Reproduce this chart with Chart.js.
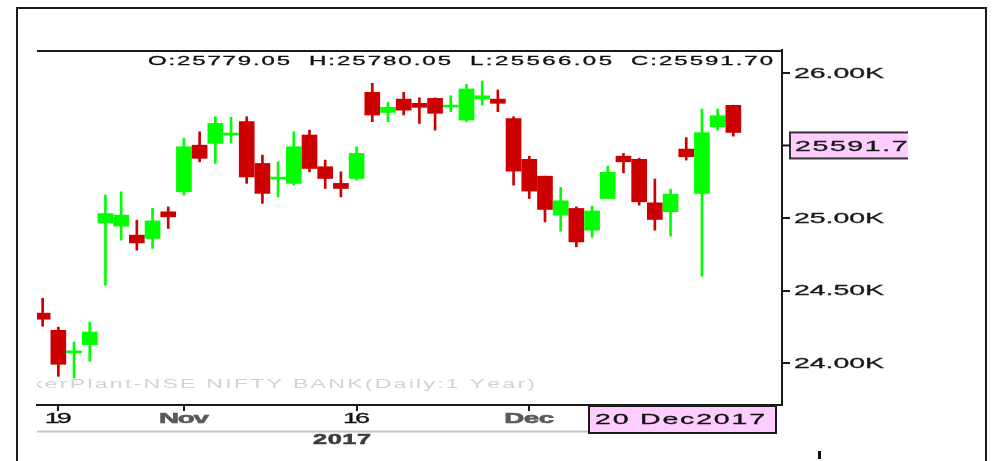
<!DOCTYPE html>
<html>
<head>
<meta charset="utf-8">
<script src="https://cdn.jsdelivr.net/npm/chart.js@4.4.1/dist/chart.umd.min.js"></script>
<style>
  html, body { margin: 0; padding: 0; background: #ffffff; }
  #wrap { width: 994px; height: 461px; position: relative; }
</style>
</head>
<body>
<div id="wrap"><canvas id="c" width="994" height="461"></canvas></div>
<script>
// ---- data (NSE NIFTY BANK, daily) ----
const dates = [
  '2017-10-18','2017-10-19','2017-10-23','2017-10-24','2017-10-25','2017-10-26','2017-10-27','2017-10-30','2017-10-31',
  '2017-11-01','2017-11-02','2017-11-03','2017-11-06','2017-11-07','2017-11-08','2017-11-09','2017-11-10',
  '2017-11-13','2017-11-14','2017-11-15','2017-11-16','2017-11-17','2017-11-20','2017-11-21','2017-11-22',
  '2017-11-23','2017-11-24','2017-11-27','2017-11-28','2017-11-29','2017-11-30',
  '2017-12-01','2017-12-04','2017-12-05','2017-12-06','2017-12-07','2017-12-08','2017-12-11','2017-12-12',
  '2017-12-13','2017-12-14','2017-12-15','2017-12-18','2017-12-19','2017-12-20'
];
const opens  = [24344,24226,24070,24127,24968,24945,24883,24860,25044,25182,25504,25516,25574,25666,25378,25270,25240,25574,25355,25240,25274,25869,25730,25822,25793,25827,25767,25677,25822,25822,25688,25406,25290,25021,25067,24917,25136,25428,25406,25106,25044,25477,25171,25631,25779.05];
const highs  = [24447,24247,24145,24283,25159,25182,24986,25067,25078,25551,25596,25700,25696,25700,25435,25389,25596,25608,25401,25320,25493,25931,25800,25869,25831,25831,25845,25924,25947,25885,25700,25428,25290,25212,25078,25083,25359,25447,25414,25270,25200,25556,25753,25753,25780.05];
const lows   = [24254,23908,23896,24012,24537,24848,24779,24791,24929,25159,25389,25378,25520,25240,25102,25147,25228,25320,25205,25147,25263,25666,25666,25712,25654,25608,25735,25666,25781,25735,25228,25136,24974,24910,24802,24867,25136,25313,25090,24917,24876,25401,24599,25608,25566.05];
const closes = [24302,23991,24078,24214,25032,25021,24829,24981,25009,25493,25413,25654,25582,25285,25171,25278,25493,25343,25274,25205,25447,25712,25765,25746,25765,25724,25774,25892,25845,25793,25325,25187,25060,25120,24836,25050,25316,25389,25113,24991,25166,25424,25590,25707,25591.70];

const yTickValues = [24000, 24500, 25000, 26000];
const xTickIndex  = [1, 9, 20, 31];
const xTickLabels = ['19', 'Nov', '16', 'Dec'];
const yearLabel   = '2017';
const lastDateLabel = '20 Dec2017';
const ohlcLabels  = ['O:25779.05', 'H:25780.05', 'L:25566.05', 'C:25591.70'];
const priceLabel  = '25591.70';
const watermark   = 'kerPlant-NSE NIFTY BANK(Daily:1 Year)';

// ---- styling ----
const RED = '#cc0000', GREEN = '#00ff00';
const FONT = '"Liberation Sans", Arial, sans-serif';
const up = closes.map((c, i) => c >= opens[i]);
const candleColors = up.map(u => u ? GREEN : RED);

function drawFit(ctx, text, x, y, o) {
  ctx.save();
  ctx.font = o.font; ctx.fillStyle = o.color;
  ctx.textBaseline = 'middle'; ctx.textAlign = 'left';
  const sx = o.sx || 1.6;
  const chars = Array.from(text);
  const adv = chars.map(c => ctx.measureText(c).width * sx);
  const natural = adv.reduce((a, b) => a + b, 0);
  const gap = chars.length > 1 ? (o.width - natural) / (chars.length - 1) : 0;
  const total = natural + gap * (chars.length - 1);
  let left = o.align === 'center' ? x - total / 2 : (o.align === 'right' ? x - total : x);
  chars.forEach((c, i) => {
    ctx.save(); ctx.translate(left, y); ctx.scale(sx, 1); ctx.fillText(c, 0, 0);
    if (o.stroke) { ctx.strokeStyle = o.color; ctx.lineWidth = o.stroke; ctx.strokeText(c, 0, 0); }
    ctx.restore();
    left += adv[i] + gap;
  });
  ctx.restore();
}

const decor = {
  id: 'decor',
  beforeDatasetsDraw(chart) {
    const { ctx, chartArea: a } = chart;
    ctx.save();
    ctx.beginPath(); ctx.rect(a.left, a.top, a.right - a.left, a.bottom - a.top); ctx.clip();
    drawFit(ctx, watermark, 31, 384.5, { font: '12.5px ' + FONT, color: '#d2d2d2', width: 504, sx: 1.85 });
    ctx.restore();
  },
  afterDraw(chart) {
    const { ctx, chartArea: a, scales } = chart;
    const xs = scales.x, ys = scales.y;
    ctx.save();
    // outer frame
    ctx.strokeStyle = '#1a1a1a'; ctx.lineWidth = 2;
    ctx.beginPath(); ctx.moveTo(17, 470); ctx.lineTo(17, 8); ctx.lineTo(986, 8); ctx.lineTo(986, 470); ctx.stroke();
    // top border of plot
    ctx.beginPath(); ctx.moveTo(a.left, a.top + 1); ctx.lineTo(a.right, a.top + 1); ctx.stroke();
    // OHLC header
    ohlcLabels.forEach((t, i) => {
      const right = a.right - 9 - (ohlcLabels.length - 1 - i) * 161;
      drawFit(ctx, t, right, 62, { font: '12px ' + FONT, color: '#111', width: 142, align: 'right', sx: 2.0, stroke: 0.3 });
    });
    // y tick labels
    ys.ticks.forEach(t => {
      const y = ys.getPixelForValue(t.value);
      const lbl = (t.value / 1000).toFixed(2) + 'K';
      drawFit(ctx, lbl, a.right + 12, y + 0.5, { font: '15px ' + FONT, color: '#1a1a1a', width: 90, sx: 1.9, stroke: 0.3 });
    });
    // current price box
    const py = ys.getPixelForValue(closes[closes.length - 1]);
    ctx.save();
    ctx.beginPath(); ctx.rect(a.right, 0, 908 - a.right, 461); ctx.clip();
    ctx.fillStyle = '#ffccff';
    ctx.fillRect(790, py, 140, 26);
    ctx.strokeStyle = '#333'; ctx.lineWidth = 2;
    ctx.strokeRect(790, py, 140, 26);
    drawFit(ctx, priceLabel, 795, py + 14.5, { font: '15px ' + FONT, color: '#1a1a1a', width: 130, sx: 1.9, stroke: 0.3 });
    ctx.restore();
    ctx.strokeStyle = '#1a1a1a'; ctx.lineWidth = 2;
    ctx.beginPath(); ctx.moveTo(a.right, py + 13); ctx.lineTo(790, py + 13); ctx.stroke();
    // x tick labels
    xs.ticks.forEach(t => {
      const k = xTickIndex.indexOf(t.value);
      if (k < 0) return;
      const lbl = xTickLabels[k];
      const isMonth = isNaN(Number(lbl));
      const x = xs.getPixelForValue(t.value);
      drawFit(ctx, lbl, x, 419, {
        font: (isMonth ? 'bold ' : '') + '15px ' + FONT,
        color: isMonth ? '#5a5a5a' : '#111',
        width: isMonth ? 50 : 27, align: 'center', sx: isMonth ? 1.85 : 1.8, stroke: isMonth ? 0.6 : 0.3
      });
    });
    // separator line and year
    ctx.strokeStyle = '#c4c4c4'; ctx.lineWidth = 2;
    ctx.beginPath(); ctx.moveTo(a.left, 431.5); ctx.lineTo(589, 431.5); ctx.stroke();
    drawFit(ctx, yearLabel, 342, 440.5, { font: 'bold 14px ' + FONT, color: '#3c3c3c', width: 58, align: 'center', sx: 1.8, stroke: 0.5 });
    // last date box
    ctx.fillStyle = '#ffccff';
    ctx.fillRect(589, 406, 187, 27);
    ctx.strokeStyle = '#1a1a1a'; ctx.lineWidth = 2;
    ctx.strokeRect(589, 406, 187, 27);
    drawFit(ctx, lastDateLabel, 595, 420, { font: '15px ' + FONT, color: '#111', width: 170, sx: 1.9, stroke: 0.3 });
    // small mark bottom right
    ctx.fillStyle = '#111';
    ctx.fillRect(818, 451, 3, 8);
    ctx.restore();
  }
};

new Chart(document.getElementById('c'), {
  type: 'bar',
  data: {
    datasets: [
      {
        label: 'Body',
        data: dates.map((d, i) => ({ x: i, y: [opens[i], closes[i]] })),
        backgroundColor: candleColors,
        borderWidth: 0,
        barThickness: 15,
        minBarLength: 2,
        grouped: false,
        order: 0
      },
      {
        label: 'Wick',
        data: dates.map((d, i) => ({ x: i, y: [lows[i], highs[i]] })),
        backgroundColor: candleColors,
        borderWidth: 0,
        barThickness: 2,
        grouped: false,
        order: 1
      }
    ]
  },
  options: {
    responsive: false,
    animation: false,
    devicePixelRatio: 1,
    layout: { padding: { left: 37, top: 50, right: 0, bottom: 0 } },
    plugins: { legend: { display: false }, tooltip: { enabled: false }, title: { display: false } },
    scales: {
      x: {
        type: 'linear',
        min: -0.36,
        max: 47.1,
        offset: false,
        afterBuildTicks: s => { s.ticks = xTickIndex.map(v => ({ value: v })); },
        afterFit: s => { s.height = 56; },
        ticks: { display: false },
        grid: { offset: false, drawOnChartArea: false, drawTicks: true, tickLength: 6, color: '#1a1a1a', lineWidth: 2 },
        border: { display: true, color: '#1a1a1a', width: 2 }
      },
      y: {
        type: 'linear',
        position: 'right',
        min: 23710,
        max: 26161,
        afterBuildTicks: s => { s.ticks = yTickValues.map(v => ({ value: v })); },
        afterFit: s => { s.width = 212; },
        ticks: { display: false },
        grid: { offset: false, drawOnChartArea: false, drawTicks: true, tickLength: 8, color: '#1a1a1a', lineWidth: 2 },
        border: { display: true, color: '#1a1a1a', width: 2 }
      }
    }
  },
  plugins: [decor]
});
</script>
</body>
</html>
